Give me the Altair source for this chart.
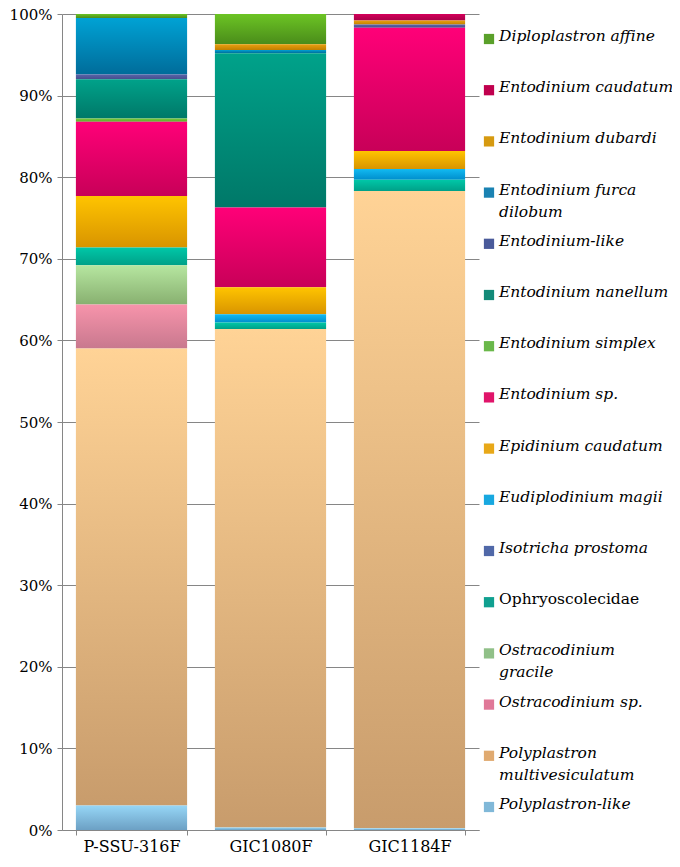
import altair as alt
import pandas as pd

samples = ["P-SSU-316F", "GIC1080F", "GIC1184F"]

species = [
    "Diploplastron affine",
    "Entodinium caudatum",
    "Entodinium dubardi",
    "Entodinium furca dilobum",
    "Entodinium-like",
    "Entodinium nanellum",
    "Entodinium simplex",
    "Entodinium sp.",
    "Epidinium caudatum",
    "Eudiplodinium magii",
    "Isotricha prostoma",
    "Ophryoscolecidae",
    "Ostracodinium gracile",
    "Ostracodinium sp.",
    "Polyplastron multivesiculatum",
    "Polyplastron-like",
]

legend_labels = [
    "Diploplastron affine",
    "Entodinium caudatum",
    "Entodinium dubardi",
    "Entodinium furca\ndilobum",
    "Entodinium-like",
    "Entodinium nanellum",
    "Entodinium simplex",
    "Entodinium sp.",
    "Epidinium caudatum",
    "Eudiplodinium magii",
    "Isotricha prostoma",
    "Ophryoscolecidae",
    "Ostracodinium\ngracile",
    "Ostracodinium sp.",
    "Polyplastron\nmultivesiculatum",
    "Polyplastron-like",
]
italic_label = [s != "Ophryoscolecidae" for s in species]

# percent of reads, same order as species
p_ssu_316f = [0.5, 0.0, 0.0, 6.9, 0.6, 4.8, 0.4, 9.1, 6.3, 0.0, 0.0, 2.2, 4.8, 5.4, 56.0, 3.0]
gic1080f = [3.7, 0.0, 0.7, 0.4, 0.0, 18.9, 0.0, 9.8, 3.3, 1.0, 0.0, 0.8, 0.0, 0.0, 61.1, 0.3]
gic1184f = [0.0, 0.8, 0.5, 0.0, 0.4, 0.0, 0.0, 15.1, 2.2, 1.3, 0.0, 1.4, 0.0, 0.0, 78.1, 0.2]

top_colors = [
    "#6cc424", "#d4005a", "#eaa010", "#00a2d4", "#5a62aa", "#00a28a",
    "#7ccc3c", "#ff0078", "#ffc400", "#12baf2", "#5a72b8", "#00c8a8",
    "#b6e6a0", "#f794ab", "#ffd396", "#96d6f6",
]
bottom_colors = [
    "#4a8c1a", "#a80048", "#c08000", "#006c9a", "#44508c", "#007868",
    "#5aaa2a", "#c80058", "#d89400", "#008ecc", "#4a5c9a", "#00a088",
    "#88b070", "#c8788e", "#c89c6c", "#6ca0c4",
]
swatch_colors = [
    "#5aa02a", "#c0004e", "#d69a10", "#1a82b2", "#4a5a9a", "#138a78",
    "#6ab84a", "#e0146a", "#e8a818", "#18a8e0", "#5068a8", "#10a090",
    "#90c088", "#e07898", "#e0aa70", "#80b8d8",
]

rows = []
for s, vals in zip(samples, [p_ssu_316f, gic1080f, gic1184f]):
    for i, (sp, v) in enumerate(zip(species, vals)):
        rows.append({"sample": s, "species": sp, "value": v,
                     "stack_order": len(species) - 1 - i})
df = pd.DataFrame(rows)

legend_df = pd.DataFrame({
    "species": species,
    "label": legend_labels,
    "italic": italic_label,
})

GRAY = "#868686"
FONT = "DejaVu Serif"

x_enc = alt.X(
    "sample:N", sort=samples,
    scale=alt.Scale(paddingInner=0.2, paddingOuter=0.1),
    axis=alt.Axis(title=None, labelAngle=0, tickBand="extent", tickSize=5,
                  labelPadding=3, labelFontSize=16, labelFont=FONT,
                  labelColor="black", domainColor=GRAY, tickColor=GRAY),
)
y_enc = alt.Y(
    "y0:Q",
    scale=alt.Scale(domain=[0, 1], nice=False),
    axis=alt.Axis(title=None, format=".0%",
                  values=[i / 10 for i in range(11)],
                  tickSize=5, labelPadding=5, labelFontSize=15, labelFont=FONT,
                  labelColor="black", domainColor=GRAY, tickColor=GRAY,
                  grid=True, gridColor=GRAY),
)

base = alt.Chart(df).transform_stack(
    stack="value",
    groupby=["sample"],
    sort=[alt.SortField("stack_order", order="ascending")],
    as_=["y0", "y1"],
    offset="normalize",
)

bar_layers = []
for sp, c_top, c_bot in zip(species, top_colors, bottom_colors):
    grad = alt.Gradient(
        gradient="linear", x1=0, x2=0, y1=0, y2=1,
        stops=[alt.GradientStop(color=c_top, offset=0),
               alt.GradientStop(color=c_bot, offset=1)],
    )
    bar_layers.append(
        base.transform_filter(alt.datum.species == sp)
        .mark_bar(fill=grad)
        .encode(x=x_enc, y=y_enc, y2="y1:Q")
    )
bars = alt.layer(*bar_layers)

ly = alt.Y("species:N", sort=species,
           scale=alt.Scale(type="point", range=[25, 793], padding=0),
           axis=None)

swatches = alt.Chart(legend_df).mark_square(size=105, opacity=1).encode(
    x=alt.value(427),
    y=ly,
    color=alt.Color("species:N", scale=alt.Scale(domain=species, range=swatch_colors),
                    legend=None),
)
text_italic = alt.Chart(legend_df).transform_filter(alt.datum.italic).mark_text(
    align="left", baseline="top", dy=-10, font=FONT, fontSize=15.5,
    fontStyle="italic", lineBreak="\n", lineHeight=22, color="black",
).encode(x=alt.value(437), y=ly, text="label:N")
text_plain = alt.Chart(legend_df).transform_filter(~alt.datum.italic).mark_text(
    align="left", baseline="top", dy=-10, font=FONT, fontSize=15.5,
    fontStyle="normal", lineBreak="\n", lineHeight=22, color="black",
).encode(x=alt.value(437), y=ly, text="label:N")

legend = alt.layer(swatches, text_italic, text_plain)

chart = alt.layer(bars, legend).resolve_scale(y="independent").properties(
    width=417, height=816,
    autosize=alt.AutoSizeParams(type="none"),
    padding={"left": 54, "top": 6, "right": 193, "bottom": 24},
).configure_view(stroke=None)

chart.save("out.html", embed_options={"renderer": "svg", "actions": False})
